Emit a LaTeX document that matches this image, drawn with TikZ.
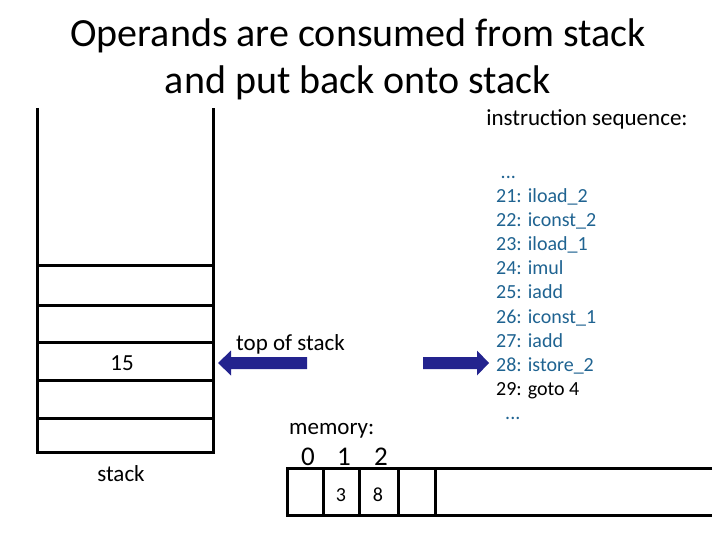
\documentclass[tikz,border=0pt]{standalone}
\usepackage{fontspec}
\setmainfont{Carlito}
\definecolor{arrblue}{HTML}{23238E}
\definecolor{code}{HTML}{1F6391}
\begin{document}
\begin{tikzpicture}[x=1pt,y=-1pt,
  thick line/.style={line width=3pt},
  lbl/.style={inner sep=0pt, anchor=base},
  bigarrow/.style={fill=arrblue, draw=none}]
\useasboundingbox (0,0) rectangle (720,540);
\node[lbl, font=\fontsize{40}{40}\selectfont] (t1) at (358,47) {Operands are consumed from stack};
\node[lbl, font=\fontsize{40}{40}\selectfont] (t2) at (358,94) {and put back onto stack};
% stack
\draw[thick line] (37,108) -- (37,452) -- (213,452) -- (213,108);
\foreach \y in {265,305,342,380,418} \draw[thick line] (37,\y) -- (213,\y);
\node[lbl, font=\fontsize{23}{23}\selectfont] (v15) at (122,370) {15};
\node[lbl, font=\fontsize{23}{23}\selectfont] (stk) at (121,481) {stack};
% arrows
\coordinate (a1tip) at (218,363);
\fill[bigarrow] (a1tip) -- ++(13,-12.5) -- ++(0,6.5) -- (307,357) -- (307,369) -- (231,369) -- (231,375.5) -- cycle;
\node[lbl, font=\fontsize{23}{23}\selectfont, anchor=base west] (tos) at (236,350) {top of stack};
\coordinate (a2tip) at (489,363);
\fill[bigarrow] (a2tip) -- ++(-12,-12.5) -- ++(0,6.5) -- (423,357) -- (423,369) -- (477,369) -- (477,375.5) -- cycle;
% instructions
\node[lbl, font=\fontsize{23}{23}\selectfont] (is) at (587,126) {instruction sequence:};
\node[inner sep=0pt, anchor=north west, align=left, text=code, font=\fontsize{20}{24.1}\selectfont] (code) at (496,176)
 {\ ...\\21: iload\_2\\22: iconst\_2\\23: iload\_1\\24: imul\\25: iadd\\26: iconst\_1\\27: iadd\\28: istore\_2\\\textcolor{black}{29: goto 4}\\\ \ ...};
% memory
\node[lbl, font=\fontsize{23}{23}\selectfont, anchor=base west] (mem) at (289,434) {memory:};
\node[lbl, font=\fontsize{27}{27}\selectfont] (m0) at (308,465) {0};
\node[lbl, font=\fontsize{27}{27}\selectfont] (m1) at (344,465) {1};
\node[lbl, font=\fontsize{27}{27}\selectfont] (m2) at (381,465) {2};
\draw[thick line] (712,468) -- (287,468) -- (287,515) -- (712,515);
\foreach \x in {323,359,398,435} \draw[thick line] (\x,468) -- (\x,515);
\node[lbl, font=\fontsize{20}{20}\selectfont] (c1) at (341,501) {3};
\node[lbl, font=\fontsize{20}{20}\selectfont] (c2) at (378,501) {8};
\end{tikzpicture}
\end{document}
